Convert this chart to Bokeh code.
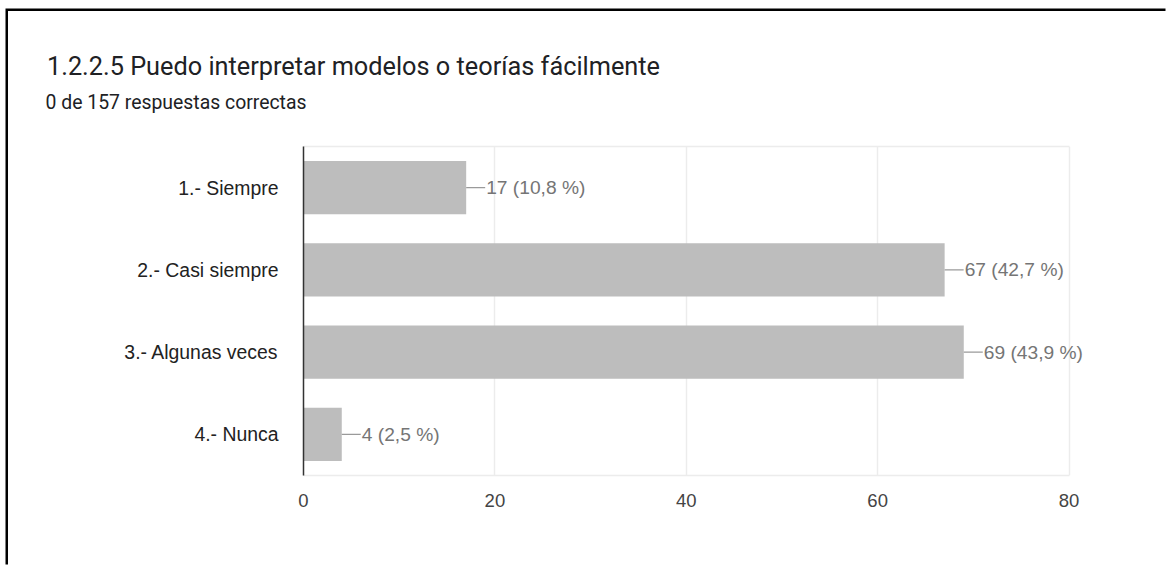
from bokeh.plotting import figure
from bokeh.models import FactorRange, Range1d, Title, ColumnDataSource, LinearAxis, FixedTicker
from bokeh.core.properties import value
from bokeh.embed import file_html
from bokeh.resources import INLINE

title_text = "1.2.2.5 Puedo interpretar modelos o teorías fácilmente"
subtitle_text = "0 de 157 respuestas correctas"
categories = ["1.- Siempre", "2.- Casi siempre", "3.- Algunas veces", "4.- Nunca"]
counts = [17, 67, 69, 4]
percents = ["10,8", "42,7", "43,9", "2,5"]
x_ticks = [0, 20, 40, 60, 80]

labels = [f"{c} ({pc} %)" for c, pc in zip(counts, percents)]
src = ColumnDataSource(dict(cat=categories, n=counts, lab=labels))

p = figure(width=1160, height=556, output_backend="svg", toolbar_location=None, title=None,
           y_range=FactorRange(*reversed(categories)), x_range=Range1d(0, 89.14),
           min_border_left=295, min_border_right=12, min_border_top=135, min_border_bottom=92)
p.background_fill_color = "white"
p.border_fill_color = "white"
p.outline_line_color = None

p.hbar(y="cat", right="n", left=0, height=0.65, source=src, fill_color="#bdbdbd", line_color=None)
p.ray(x="n", y="cat", length=19, length_units="screen", angle=0, source=src,
      line_color="#9a9a9a", line_width=1.2)
p.text(x="n", y="cat", text="lab", source=src, x_offset=20, text_baseline="middle", text_align="left",
       text_font=value("Liberation Sans"), text_font_size="19.2px", text_color="#757575")

p.xgrid.grid_line_color = "#ececec"
p.xgrid.grid_line_width = 1.5
p.ygrid.grid_line_color = None
p.xaxis.ticker = x_ticks
p.xaxis.bounds = (0, 80)
p.xaxis.axis_line_color = "#ececec"
p.xaxis.axis_line_width = 1.5
p.xaxis.major_tick_line_color = None
p.xaxis.minor_tick_line_color = None
p.xaxis.major_label_standoff = 12
p.xaxis.major_label_text_font = "Liberation Sans"
p.xaxis.major_label_text_font_size = "18.5px"
p.xaxis.major_label_text_color = "#444444"

p.yaxis.axis_line_color = "#333333"
p.yaxis.axis_line_width = 1.5
p.yaxis.major_tick_line_color = None
p.yaxis.minor_tick_line_color = None
p.yaxis.major_label_standoff = 19
p.yaxis.major_label_text_font = "Liberation Sans"
p.yaxis.major_label_text_font_size = "19.4px"
p.yaxis.major_label_text_color = "#222222"

top_axis = LinearAxis(ticker=FixedTicker(ticks=[]), bounds=(0, 80), axis_line_color="#ececec",
                      axis_line_width=1.5, major_tick_line_color=None, minor_tick_line_color=None,
                      major_label_text_font_size="0px")
p.add_layout(top_axis, "above")
p.add_layout(Title(text=subtitle_text, align="left", offset=-258, text_font="Roboto",
                   text_font_size="19.4px", text_font_style="normal", text_color="#202124",
                   standoff=64.5), "above")
p.add_layout(Title(text=title_text, align="left", offset=-256.5, text_font="Roboto",
                   text_font_size="25.3px", text_font_style="normal", text_color="#202124",
                   standoff=-48), "above")

p.styles = {"box-shadow": "-2.5px -2.5px 0px 0px black",
            "margin-top": "10.5px", "margin-left": "7.5px"}

open("out.html", "w").write(file_html(p, INLINE))
